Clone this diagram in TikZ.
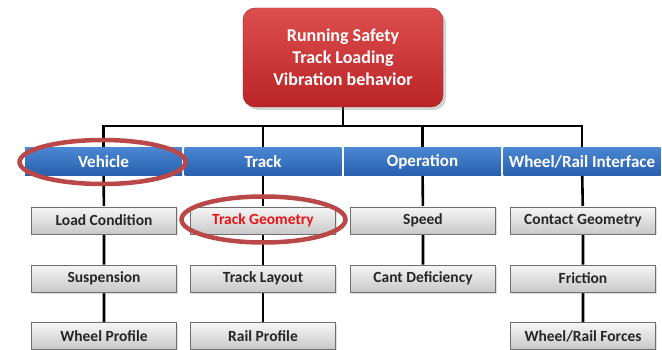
\documentclass[tikz,border=0pt]{standalone}
\usepackage{fontspec}
\setmainfont{Carlito}
\usetikzlibrary{shapes.geometric,shadows,backgrounds}

\definecolor{goalTop}{RGB}{222,78,78}
\definecolor{goalBottom}{RGB}{186,36,38}
\definecolor{goalBorder}{RGB}{150,40,40}
\definecolor{areaTop}{RGB}{74,134,210}
\definecolor{areaBottom}{RGB}{40,94,172}
\definecolor{itemTop}{RGB}{246,246,246}
\definecolor{itemBottom}{RGB}{200,200,200}
\definecolor{itemBorder}{RGB}{110,110,110}
\definecolor{markRing}{RGB}{186,72,72}
\definecolor{markText}{RGB}{232,20,24}

\tikzset{
    goalbox/.style={rectangle, rounded corners=12pt, draw=goalBorder,
        top color=goalTop, bottom color=goalBottom, text=white,
        minimum width=200pt, minimum height=99pt, inner sep=0pt,
        align=center, font=\bfseries\fontsize{18}{22}\selectfont,
        drop shadow={opacity=0.35, shadow xshift=3pt, shadow yshift=-3pt}},
    areabox/.style={rectangle, draw=none, top color=areaTop,
        bottom color=areaBottom, text=white, minimum width=157pt,
        minimum height=28pt, inner sep=0pt,
        font=\bfseries\fontsize{17}{20}\selectfont},
    itembox/.style={rectangle, draw=itemBorder, line width=0.8pt,
        top color=itemTop, bottom color=itemBottom, text=black!85,
        minimum width=145pt, minimum height=27pt, inner sep=0pt,
        font=\bfseries\fontsize{15.5}{18}\selectfont,
        drop shadow={opacity=0.25, shadow xshift=1.5pt, shadow yshift=-1.5pt}},
    ring/.style={ellipse, draw=markRing, line width=4.5pt, inner sep=0pt},
    link/.style={draw=black, line width=2.6pt}
}

\begin{document}
\begin{tikzpicture}[x=1pt,y=-1pt]

    \useasboundingbox (0,0) rectangle (662,350);

    \node[goalbox] (goal) at (343,57.5) {Running Safety\\Track Loading\\Vibration behavior};
    \coordinate (bus) at (343,126);

    \node[areabox] (vehicle) at (103.5,162) {Vehicle};
    \node[areabox] (track) at (263,162) {Track};
    \node[areabox] (operation) at (422.5,162) {Operation};
    \node[areabox] (interface) at (582,162) {Wheel/Rail Interface};

    \node[itembox] (load) at (104,220.5) {Load Condition};
    \node[itembox] (suspension) at (104,278.5) {Suspension};
    \node[itembox] (wheelprofile) at (104,336) {Wheel Profile};

    \node[itembox, text=markText] (geometry) at (263,220.5) {Track Geometry};
    \node[itembox] (layout) at (263,278.5) {Track Layout};
    \node[itembox] (railprofile) at (263,336) {Rail Profile};

    \node[itembox] (speed) at (423,220.5) {Speed};
    \node[itembox] (cant) at (423,278.5) {Cant Deficiency};

    \node[itembox] (contact) at (583,220.5) {Contact Geometry};
    \node[itembox] (friction) at (583,278.5) {Friction};
    \node[itembox] (forces) at (583,336) {Wheel/Rail Forces};

    \begin{scope}[on background layer]
        \draw[link] (goal) -- (bus);
        \draw[link] (bus) -| (vehicle);
        \draw[link] (bus) -| (track);
        \draw[link] (bus) -| (operation);
        \draw[link] (bus) -| (interface);
        \draw[link] (vehicle) -- (load) -- (suspension) -- (wheelprofile);
        \draw[link] (track) -- (geometry) -- (layout) -- (railprofile);
        \draw[link] (operation) -- (speed) -- (cant);
        \draw[link] (interface) -- (contact) -- (friction) -- (forces);
    \end{scope}

    \node[ring, minimum width=166pt, minimum height=44pt] (vehiclering) at (102.5,162) {};
    \node[ring, minimum width=164pt, minimum height=46pt] (geometryring) at (263.5,219.5) {};

\end{tikzpicture}
\end{document}
